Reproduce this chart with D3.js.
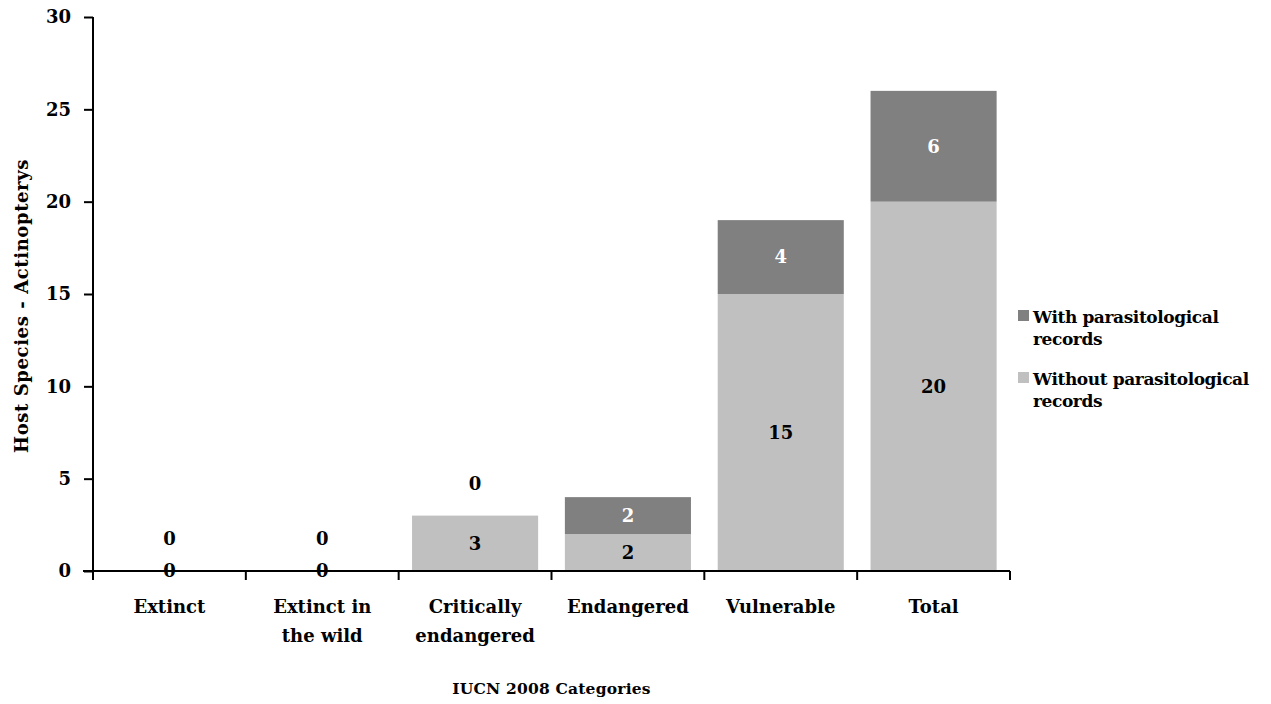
<!DOCTYPE html>
<html><head><meta charset="utf-8">
<script src="https://cdn.jsdelivr.net/npm/d3@7"></script>
<style>body{margin:0;background:#fff}svg{display:block}text{font-family:"DejaVu Serif",serif;font-weight:bold}</style>
</head><body>
<svg id="c" width="1271" height="704"></svg>
<script>
const categories = [["Extinct"],["Extinct in","the wild"],["Critically","endangered"],["Endangered"],["Vulnerable"],["Total"]];
const withoutRecords = [0,0,3,2,15,20];
const withRecords = [0,0,0,2,4,6];
const yTicks = [0,5,10,15,20,25,30];
const seriesNames = [["With parasitological","records"],["Without parasitological","records"]];
const colors = {with:"#808080", without:"#c0c0c0"};

const svg = d3.select("#c");
const m = {l:93, r:1010, t:17, b:571};
const x = d3.scaleBand().domain(d3.range(categories.length)).range([m.l, m.r]).paddingInner(0.175).paddingOuter(0.0875);
const y = d3.scaleLinear().domain([0,30]).range([m.b, m.t]);

// bars
const g = svg.append("g");
categories.forEach((c,i)=>{
  const a = withoutRecords[i], b = withRecords[i];
  if (a>0) g.append("rect").attr("x",x(i)).attr("width",x.bandwidth()).attr("y",y(a)).attr("height",y(0)-y(a)).attr("fill",colors.without);
  if (b>0) g.append("rect").attr("x",x(i)).attr("width",x.bandwidth()).attr("y",y(a+b)).attr("height",y(a)-y(a+b)).attr("fill",colors.with);
});

// axes
const yAxis = d3.axisLeft(y).tickValues(yTicks).tickSize(9).tickPadding(13);
const ya = svg.append("g").attr("transform",`translate(${m.l},0)`).call(yAxis);
ya.selectAll("text").attr("font-size",18).attr("fill","#000");
ya.selectAll("line,path").attr("stroke","#000").attr("stroke-width",2);
ya.select(".domain").attr("d",`M0,${m.t}V${m.b}`);
ya.selectAll(".tick line").attr("x1",-9).attr("x2",0);

const xa = svg.append("g").attr("transform",`translate(0,${m.b})`);
xa.append("line").attr("x1",m.l-10).attr("x2",m.r).attr("stroke","#000").attr("stroke-width",2);
d3.range(categories.length+1).forEach(i=>{
  const px = m.l + i*(m.r-m.l)/categories.length;
  xa.append("line").attr("x1",px).attr("x2",px).attr("y1",0).attr("y2",9).attr("stroke","#000").attr("stroke-width",2);
});
categories.forEach((c,i)=>{
  const t = xa.append("text").attr("x",x(i)+x.bandwidth()/2).attr("y",42).attr("text-anchor","middle").attr("font-size",18);
  c.forEach((ln,j)=>t.append("tspan").attr("x",x(i)+x.bandwidth()/2).attr("dy",j?29:0).text(ln));
});

// value labels
categories.forEach((c,i)=>{
  const a = withoutRecords[i], b = withRecords[i];
  const cx = x(i)+x.bandwidth()/2;
  g.append("text").attr("x",cx).attr("y",y(a/2)).attr("dy","0.35em").attr("text-anchor","middle").attr("font-size",18).attr("fill","#000").text(a);
  const yy = b>0 ? y(a+b/2) : y(a+b)-32;
  g.append("text").attr("x",cx).attr("y",yy).attr("dy","0.35em").attr("text-anchor","middle").attr("font-size",18).attr("fill",b>0?"#fff":"#000").text(b);
});

// titles
svg.append("text").attr("x",(m.l+m.r)/2).attr("y",694).attr("text-anchor","middle").attr("font-size",15.5).attr("letter-spacing",0.2).text("IUCN 2008 Categories");
svg.append("text").attr("transform",`translate(28,${(m.t+m.b)/2+12}) rotate(-90)`).attr("text-anchor","middle").attr("font-size",18).attr("letter-spacing",0.6).text("Host Species - Actinopterys");

// legend
const lg = svg.append("g").attr("transform","translate(1018,310)");
[[colors.with,0],[colors.without,1]].forEach(([col,k])=>{
  const oy = k*62;
  lg.append("rect").attr("x",0).attr("y",oy).attr("width",11).attr("height",11).attr("fill",col);
  const t = lg.append("text").attr("x",15).attr("y",oy+13).attr("font-size",17).attr("letter-spacing",-0.4);
  seriesNames[k].forEach((ln,j)=>t.append("tspan").attr("x",15).attr("dy",j?22:0).text(ln));
});
</script>
</body></html>
